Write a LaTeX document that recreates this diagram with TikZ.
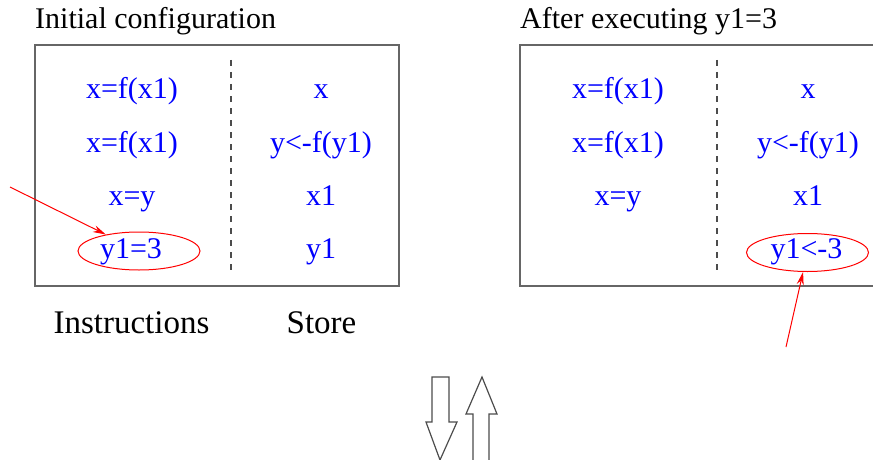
\documentclass[tikz,border=0pt]{standalone}
\usepackage{fontspec}
\setmainfont{Liberation Serif}
\usetikzlibrary{shapes.geometric,arrows.meta}
\begin{document}
\begin{tikzpicture}[x=1pt,y=-1pt,
  frame/.style={draw=black!60,line width=1.4pt},
  sep/.style={draw=black!70,line width=1.1pt,dash pattern=on 6pt off 6pt},
  cell/.style={text=blue,font=\fontsize{30}{30}\selectfont,anchor=base,inner sep=0},
  title/.style={font=\fontsize{30}{30}\selectfont,anchor=base west,inner sep=0},
  caption/.style={font=\fontsize{33}{33}\selectfont,anchor=base,inner sep=0},
  ring/.style={ellipse,draw=red,line width=1pt,minimum width=122pt,minimum height=38pt,inner sep=0},
  pointer/.style={draw=red,line width=1pt,-{Stealth[length=13pt,width=7pt]}},
  hollow/.style={draw=black!70,line width=1.2pt,fill=white,line join=miter}]
\useasboundingbox (0,0) rectangle (873,460);

% titles
\node[title] (t1) at (35,29) {Initial configuration};
\node[title] (t2) at (520,29) {After executing y1=3};

% left frame: instructions | store
\draw[frame] (35,45) rectangle (399,286);
\draw[sep] (231,60) -- (231,274);
\node[cell] (a1) at (132,99) {x=f(x1)};
\node[cell] (a2) at (132,152) {x=f(x1)};
\node[cell] (a3) at (132,205) {x=y};
\node[cell] (a4) at (131,258) {y1=3};
\node[cell] (s1) at (321,99) {x};
\node[cell] (s2) at (321,152) {y<-f(y1)};
\node[cell] (s3) at (321,205) {x1};
\node[cell] (s4) at (321,258) {y1};
\node[ring] (e1) at (139,251) {};
\coordinate (p1) at (10,187);
\draw[pointer] (p1) -- (e1);

\node[caption] (c1) at (131.5,333) {Instructions};
\node[caption] (c2) at (321.5,333) {Store};

% right frame, open towards the right edge
\draw[frame] (880,45) -- (520,45) -- (520,286) -- (880,286);
\draw[sep] (717,60) -- (717,274);
\node[cell] (b1) at (618,99) {x=f(x1)};
\node[cell] (b2) at (618,152) {x=f(x1)};
\node[cell] (b3) at (618,205) {x=y};
\node[cell] (r1) at (808,99) {x};
\node[cell] (r2) at (808,152) {y<-f(y1)};
\node[cell] (r3) at (808,205) {x1};
\node[cell] (r4) at (806.5,258) {y1<-3};
\node[ring] (e2) at (807.5,252.5) {};
\coordinate (p2) at (786,347);
\draw[pointer] (p2) -- (e2);

% hollow down / up arrows
\draw[hollow] (432,377) -- (449,377) -- (449,422) -- (457,422) -- (440,460)
  -- (426,422) -- (432,422) -- cycle;
\draw[hollow] (473,470) -- (473,414) -- (466,414) -- (482,377) -- (497,414)
  -- (489,414) -- (489,470);
\end{tikzpicture}
\end{document}
